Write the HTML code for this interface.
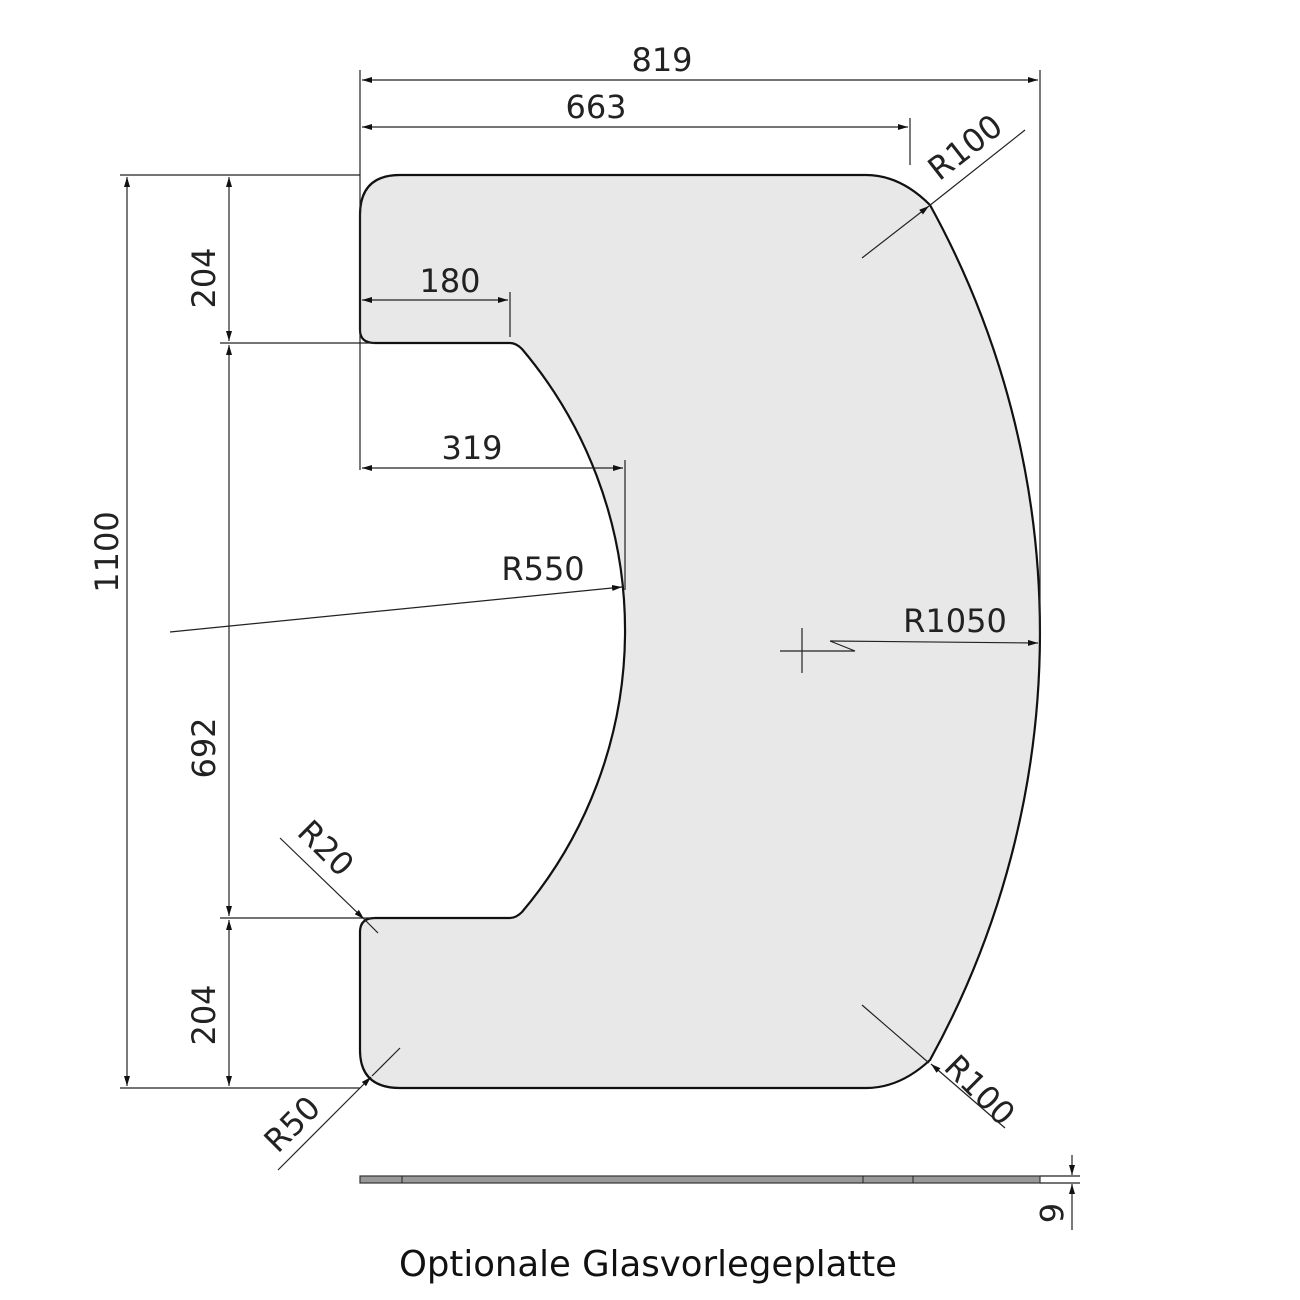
<!DOCTYPE html>
<html><head><meta charset="utf-8"><style>
html,body{margin:0;padding:0;background:#fff;width:1300px;height:1300px;overflow:hidden}
text{font-family:"DejaVu Sans","Liberation Sans",sans-serif;fill:#222}
</style></head><body>
<svg width="1300" height="1300" viewBox="0 0 1300 1300" xmlns="http://www.w3.org/2000/svg">
<defs>
<marker id="a" viewBox="0 0 10 6" refX="10" refY="3" markerWidth="10" markerHeight="6" orient="auto-start-reverse" markerUnits="userSpaceOnUse"><path d="M0,0 L10,3 L0,6 z" fill="#111"/></marker>
</defs>
<path d="M400,175 L866,175 Q900,175 930,205 A886,886 0 0 1 930,1060 Q900,1088 866,1088 L400,1088 Q360,1088 360,1050 L360,932 Q360,918 375,918 L510,918 Q516,918 522,912 A436,436 0 0 0 522,349 Q516,343 510,343 L375,343 Q360,343 360,330 L360,215 Q360,175 400,175 Z" fill="#e8e8e8" stroke="#111" stroke-width="2.2"/>
<g stroke="#222" stroke-width="1.2" fill="none">
<line x1="360" y1="70" x2="360" y2="470"/>
<line x1="1040" y1="70" x2="1040" y2="640"/>
<line x1="910" y1="118" x2="910" y2="165"/>
<line x1="362" y1="80" x2="1038" y2="80" marker-start="url(#a)" marker-end="url(#a)"/>
<line x1="362" y1="127" x2="908" y2="127" marker-start="url(#a)" marker-end="url(#a)"/>
<line x1="120" y1="175" x2="360" y2="175"/>
<line x1="120" y1="1088" x2="360" y2="1088"/>
<line x1="220" y1="343" x2="375" y2="343"/>
<line x1="220" y1="918" x2="375" y2="918"/>
<line x1="127" y1="177" x2="127" y2="1086" marker-start="url(#a)" marker-end="url(#a)"/>
<line x1="229" y1="177" x2="229" y2="341" marker-start="url(#a)" marker-end="url(#a)"/>
<line x1="229" y1="345" x2="229" y2="916" marker-start="url(#a)" marker-end="url(#a)"/>
<line x1="229" y1="920" x2="229" y2="1086" marker-start="url(#a)" marker-end="url(#a)"/>
<line x1="510" y1="292" x2="510" y2="337"/>
<line x1="362" y1="300" x2="508" y2="300" marker-start="url(#a)" marker-end="url(#a)"/>
<line x1="625" y1="460" x2="625" y2="590"/>
<line x1="362" y1="468" x2="623" y2="468" marker-start="url(#a)" marker-end="url(#a)"/>
<line x1="170" y1="632" x2="622" y2="587" marker-end="url(#a)"/>
<line x1="802" y1="628" x2="802" y2="673"/>
<polyline points="780,651 855,651 830,641"/>
<line x1="830" y1="641" x2="1038" y2="643" marker-end="url(#a)"/>
<line x1="862" y1="258" x2="929" y2="206" marker-end="url(#a)"/>
<line x1="929" y1="206" x2="1025" y2="130"/>
<line x1="862" y1="1005" x2="929" y2="1063"/>
<line x1="1005" y1="1128" x2="931" y2="1064" marker-end="url(#a)"/>
<line x1="400" y1="1048" x2="372" y2="1076"/>
<line x1="278" y1="1170" x2="371" y2="1077" marker-end="url(#a)"/>
<line x1="280" y1="838" x2="364" y2="919" marker-end="url(#a)"/>
<line x1="364" y1="919" x2="378" y2="933"/>
<line x1="1040" y1="1176" x2="1080" y2="1176"/>
<line x1="1040" y1="1183" x2="1080" y2="1183"/>
<line x1="1072" y1="1155" x2="1072" y2="1175" marker-end="url(#a)"/>
<line x1="1072" y1="1230" x2="1072" y2="1184" marker-end="url(#a)"/>
</g>
<rect x="360" y="1176" width="680" height="7" fill="#999" stroke="#333" stroke-width="1.2"/>
<g stroke="#222" stroke-width="1"><line x1="402" y1="1176" x2="402" y2="1183"/><line x1="863" y1="1176" x2="863" y2="1183"/><line x1="913" y1="1176" x2="913" y2="1183"/></g>
<g font-size="32">
<text x="662" y="71" text-anchor="middle">819</text>
<text x="596" y="118" text-anchor="middle">663</text>
<text x="450" y="292" text-anchor="middle">180</text>
<text x="472" y="459" text-anchor="middle">319</text>
<text x="543" y="580" text-anchor="middle">R550</text>
<text x="955" y="632" text-anchor="middle">R1050</text>
<text transform="translate(118,552) rotate(-90)" text-anchor="middle">1100</text>
<text transform="translate(215,278) rotate(-90)" text-anchor="middle">204</text>
<text transform="translate(215,748) rotate(-90)" text-anchor="middle">692</text>
<text transform="translate(215,1015) rotate(-90)" text-anchor="middle">204</text>
<text transform="translate(972,156) rotate(-38)" text-anchor="middle">R100</text>
<text transform="translate(972,1098) rotate(45)" text-anchor="middle">R100</text>
<text transform="translate(300,1132) rotate(-45)" text-anchor="middle">R50</text>
<text transform="translate(318,856) rotate(45)" text-anchor="middle">R20</text>
<text transform="translate(1040,1213) rotate(90)" text-anchor="middle">6</text>
</g>
<text x="648" y="1276" text-anchor="middle" font-size="35.5" style="fill:#111">Optionale Glasvorlegeplatte</text>
</svg>
</body></html>
